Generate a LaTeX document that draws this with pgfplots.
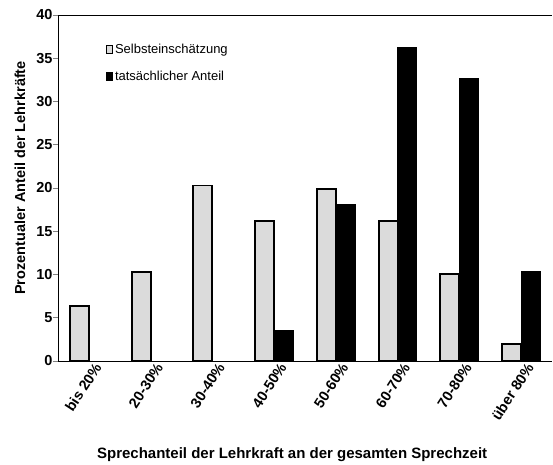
\documentclass[border=0pt]{standalone}
\usepackage{pgfplots}
\pgfplotsset{compat=1.18}
\usepackage{fontspec}
\setmainfont{Liberation Sans}
\begin{document}
\begin{tikzpicture}
\useasboundingbox (-58pt,-103pt) rectangle (495pt,361pt);
\begin{axis}[
  scale only axis,
  width=494pt, height=346pt,
  xmin=-0.5, xmax=7.5,
  ymin=0, ymax=40,
  ytick={0,5,...,40},
  axis x line*=bottom,
  axis y line*=left,
  axis line style={line width=1pt, -},
  xtick={0,...,7},
  xticklabels={bis 20\%,20-30\%,30-40\%,40-50\%,50-60\%,60-70\%,70-80\%,über 80\%},
  major x tick style={draw=none},
  extra x ticks={-0.5,0.5,1.5,2.5,3.5,4.5,5.5,6.5,7.5},
  extra x tick labels={},
  extra x tick style={major tick length=5pt, tick style={draw=black, line width=1pt}, tick align=outside},
  ytick align=outside,
  major tick length=5pt,
  y tick style={line width=1pt},
  x tick label style={rotate=57, anchor=north east, font=\bfseries\fontsize{14.5}{14.5}\selectfont, inner sep=1pt, xshift=3pt, yshift=-3pt},
  y tick label style={font=\bfseries\fontsize{14.5}{14.5}\selectfont, xshift=3pt},
  /pgf/number format/assume math mode=true,
  xlabel={\textbf{Sprechanteil der Lehrkraft an der gesamten Sprechzeit}},
  ylabel={\textbf{Prozentualer Anteil der Lehrkräfte}},
  xlabel style={font=\fontsize{15}{15}\selectfont, at={(axis description cs:0.474,-0.272)}, anchor=center},
  ylabel style={font=\fontsize{14.5}{14.5}\selectfont, at={(axis description cs:-0.077,0.529)}, anchor=center},
  legend style={draw=none, fill=none, at={(45pt,321pt)}, anchor=north west, font=\fontsize{13}{13}\selectfont, row sep=12pt, legend cell align=left, nodes={inner sep=2pt}},
  legend image code/.code={\draw[#1, line width=0.8pt] (0pt,-4pt) rectangle (6pt,4pt);},
  clip=false,
]
\addplot[ybar, bar width=19pt, bar shift=-9.5pt, fill=gray!28, draw=black, line width=1.8pt]
  coordinates {(0,6.4) (1,10.25) (2,20.3) (3,16.2) (4,19.9) (5,16.2) (6,10.1) (7,1.95)};
\addlegendentry{Selbsteinschätzung}
\addplot[ybar, bar width=19pt, bar shift=9.5pt, fill=black, draw=black, line width=0.6pt]
  coordinates {(3,3.5) (4,18.1) (5,36.3) (6,32.7) (7,10.4)};
\addlegendentry{tatsächlicher Anteil}
\draw[line width=1pt] (rel axis cs:0,1) -- (rel axis cs:1,1);
\end{axis}
\end{tikzpicture}
\end{document}
